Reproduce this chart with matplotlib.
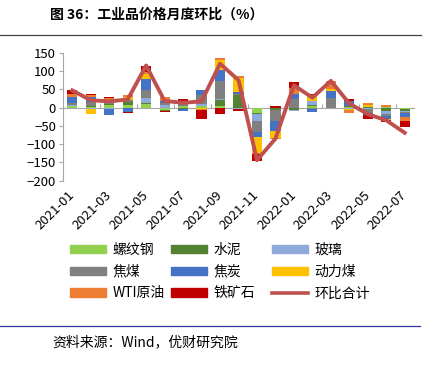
import matplotlib
matplotlib.use('agg')
import matplotlib.pyplot as plt
from matplotlib.patches import Patch
from matplotlib.lines import Line2D
import numpy as np

plt.rcParams['font.family'] = ['Noto Sans CJK SC', 'DejaVu Sans']

# ---- data ----
months = ['2021-01', '2021-02', '2021-03', '2021-04', '2021-05', '2021-06', '2021-07',
          '2021-08', '2021-09', '2021-10', '2021-11', '2021-12', '2022-01', '2022-02',
          '2022-03', '2022-04', '2022-05', '2022-06', '2022-07']

rebar  = [3, 2, 6, 6, 11, -7, 3, 3, 4, 0, -16, 0, 0, 3, 0, 2, 0, 2, -4]        # 螺纹钢
cement = [2, 2, 3, 8, 2, -2, -5, 2, 18, 34, -2, -6, -6, 3, 0, 2, 2, -10, -5]   # 水泥
glass  = [3, -5, -3, 2, 12, 6, 2, 4, 2, -5, -18, -2, -3, 11, -2, -4, -3, -7, -3]  # 玻璃
cokcoal = [5, 10, 12, 5, 23, 6, 8, 25, 48, 2, -30, -30, 23, -3, 27, 0, -12, -7, -4]  # 焦煤
coke   = [16, 15, -16, -12, 29, 6, -4, 13, 30, 6, -15, -26, 15, -8, 19, 15, -6, -7, -9]  # 焦炭
thermal = [-2, -12, 2, 9, 16, 0, 2, -3, 28, 38, -42, -18, 0, 16, 5, -4, 4, -2, 0]  # 动力煤
wti    = [9, 5, 4, 3, 3, 11, 4, -4, 6, 5, -4, -5, 15, 0, 22, -6, 7, 4, -13]    # WTI原油
ore    = [11, 3, 3, -2, 18, -3, 4, -23, -18, -5, -20, 5, 16, 4, 0, 4, -10, -6, -15]  # 铁矿石
total  = [47, 20, 17, 22, 115, 18, 13, 17, 120, 75, -144, -85, 61, 27, 73, 11, -18, -35, -69]  # 环比合计

series = [
    ('螺纹钢', rebar, '#92D050'),
    ('水泥', cement, '#548235'),
    ('玻璃', glass, '#8EA9DB'),
    ('焦煤', cokcoal, '#808080'),
    ('焦炭', coke, '#4472C4'),
    ('动力煤', thermal, '#FFC000'),
    ('WTI原油', wti, '#ED7D31'),
    ('铁矿石', ore, '#C00000'),
]
line_color = '#C0504D'

# ---- figure ----
fig = plt.figure(figsize=(4.42, 3.66), dpi=100)
ax = fig.add_axes([63 / 442, 1 - 180.7 / 366, 351 / 442, 128 / 366])

x = np.arange(len(months))
pos = np.zeros(len(months))
neg = np.zeros(len(months))
for name, vals, color in series:
    v = np.array(vals, dtype=float)
    bottom = np.where(v >= 0, pos, neg)
    ax.bar(x, v, 0.55, bottom=bottom, color=color, zorder=2)
    pos = pos + np.where(v >= 0, v, 0)
    neg = neg + np.where(v < 0, v, 0)

ax.plot(x, total, color=line_color, lw=2.8, zorder=3)

ax.set_xlim(-0.5, len(months) - 0.5)
ax.set_ylim(-200, 150)
ax.set_yticks(range(-200, 151, 50))
ax.tick_params(axis='y', length=3, width=0.8, color='#A6A6A6', labelsize=9.5, pad=2)

ax.set_xticks(x[::2])
ax.set_xticklabels(months[::2], rotation=45, ha='right', va='center',
                   rotation_mode='anchor', fontsize=9.5)
ax.tick_params(axis='x', length=0, pad=9)

for s in ['top', 'right', 'bottom']:
    ax.spines[s].set_visible(False)
ax.spines['left'].set_color('#A6A6A6')

# zero axis line with category tick marks
zero = ax.secondary_xaxis(200 / 350)
zero.set_xticks(np.arange(1.5, len(months) - 0.5, 2))
zero.set_xticklabels([])
zero.tick_params(axis='x', length=3, width=0.8, color='#A6A6A6', direction='out')
for sp in zero.spines.values():
    sp.set_color('#A6A6A6')

# ---- legend (three columns) ----
cols = [
    [0, 3, 6],
    [1, 4, 7],
    [2, 5, None],
]
col_x = [70 / 442, 171 / 442, 272 / 442]
for cx, idxs in zip(col_x, cols):
    handles, labels = [], []
    for i in idxs:
        if i is None:
            handles.append(Line2D([], [], color=line_color, lw=2.6))
            labels.append('环比合计')
        else:
            handles.append(Patch(color=series[i][2]))
            labels.append(series[i][0])
    fig.legend(handles, labels, loc='upper left', bbox_to_anchor=(cx, 1 - 243 / 366),
               frameon=False, fontsize=10, handlelength=2.6, handleheight=0.55,
               handletextpad=0.45, labelspacing=0.55, borderpad=0, borderaxespad=0)

# ---- title, rules, source ----
fig.text(50 / 442, 1 - 15 / 366, '图 36：工业品价格月度环比（%）', fontsize=10,
         fontweight='bold', va='center', ha='left')
fig.add_artist(Line2D([0, 421 / 442], [1 - 34.5 / 366] * 2, color='#404040', lw=0.9))
fig.add_artist(Line2D([0, 420 / 442], [1 - 325.5 / 366] * 2, color='#2F3699', lw=0.9))
fig.text(52 / 442, 1 - 342 / 366, '资料来源：Wind，优财研究院', fontsize=10,
         va='center', ha='left')

fig.savefig('out.png', dpi=100)
